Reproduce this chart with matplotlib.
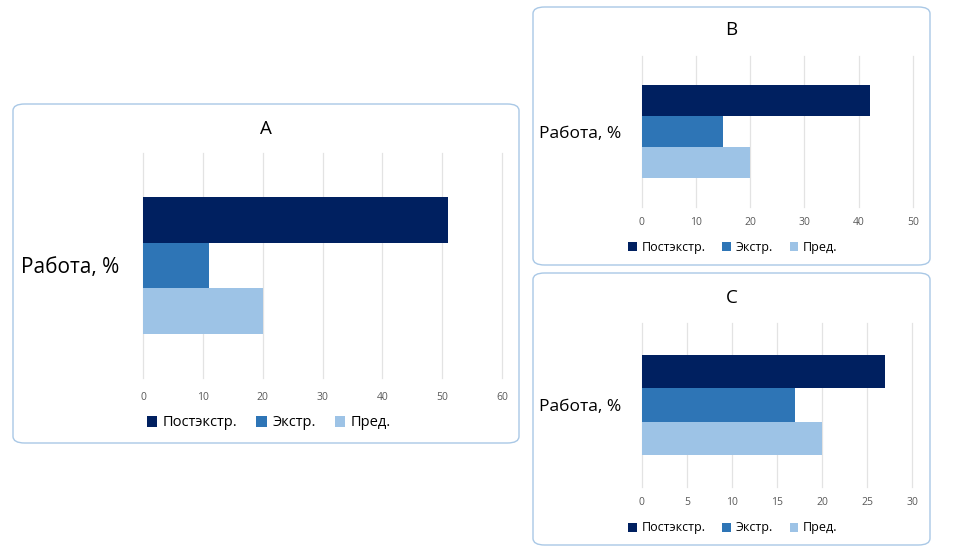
import matplotlib
matplotlib.use("Agg")
import matplotlib.pyplot as plt
from matplotlib.patches import FancyBboxPatch

plt.rcParams['font.family'] = ['Open Sans', 'DejaVu Sans']

category = "Работа, %"
series_names = ["Постэкстр.", "Экстр.", "Пред."]
colors = ["#002060", "#2E75B6", "#9DC3E6"]

panel_titles = ["A", "B", "C"]
values_A = [51, 11, 20]
values_B = [42, 15, 20]
values_C = [27, 17, 20]
xmax = [60, 50, 30]
xstep = [10, 10, 5]

W, H = 975, 548
fig = plt.figure(figsize=(W / 100, H / 100), dpi=100)


def fx(px):
    return px / W


def fy(py):
    return 1 - py / H


# panel layouts in pixels
boxes = [(13, 104, 519, 443), (533, 7, 930, 265), (533, 273, 930, 545)]
axes_px = [(143, 153, 502, 378), (641.7, 56, 913, 207), (641.7, 323, 912.3, 487)]
title_y = [129, 30, 298]
legend_pos = [(269, 423), (733, 247), (733, 528)]
values_all = [values_A, values_B, values_C]

for i in range(3):
    x0, y0, x1, y1 = boxes[i]
    box = FancyBboxPatch((fx(x0), fy(y1)), fx(x1 - x0), (y1 - y0) / H,
                         boxstyle="round,pad=0,rounding_size=0.012",
                         transform=fig.transFigure, facecolor="white",
                         edgecolor="#A9C8E6", linewidth=1.0, zorder=-5)
    fig.patches.append(box)

    ax0, ay0, ax1, ay1 = axes_px[i]
    ax = fig.add_axes([fx(ax0), fy(ay1), fx(ax1 - ax0), (ay1 - ay0) / H])
    ax.set_facecolor("none")
    vals = values_all[i]
    offsets = [1, 0, -1]
    for v, off, c, name in zip(vals, offsets, colors, series_names):
        ax.barh(off, v, height=1.0, color=c, label=name, zorder=3)
    ax.set_xlim(0, xmax[i])
    ax.set_ylim(-2.45, 2.45)
    ax.set_xticks(range(0, xmax[i] + 1, xstep[i]))
    ax.set_yticks([0])
    ax.set_yticklabels([category], fontsize=15 if i == 0 else 12.5)
    ax.tick_params(axis='y', length=0, pad=17 if i == 0 else 15, colors="#000000")
    ax.tick_params(axis='x', length=0, pad=10 if i == 0 else 7,
                   labelsize=7.5, colors="#595959")
    ax.grid(axis='x', color="#E3E3E3", linewidth=0.9, zorder=0)
    for gl in ax.get_xgridlines():
        gl.set_clip_on(False)
    for s in ax.spines.values():
        s.set_visible(False)

    fig.text(fx((x0 + x1) / 2), fy(title_y[i]), panel_titles[i],
             ha='center', va='center', fontsize=13.5, color="#000000")

    lx, ly = legend_pos[i]
    ax.legend(loc='center', bbox_to_anchor=(fx(lx), fy(ly)),
              bbox_transform=fig.transFigure, ncol=3, frameon=False,
              fontsize=10.5 if i == 0 else 9, handlelength=0.7, handleheight=0.7,
              handletextpad=0.4, columnspacing=1.3, borderaxespad=0)

fig.savefig("out.png", dpi=100)
